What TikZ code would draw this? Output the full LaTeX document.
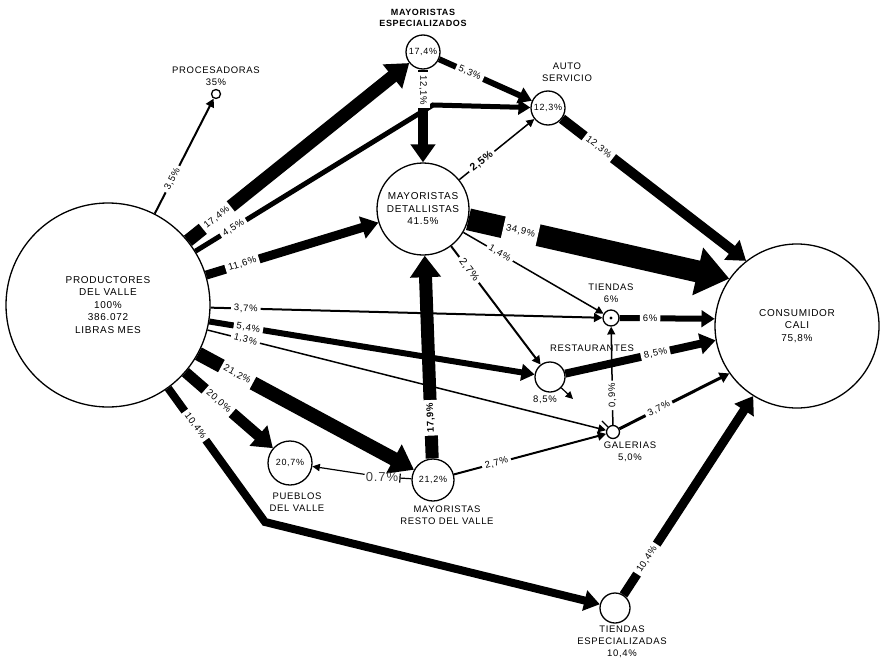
\documentclass[tikz,border=0pt]{standalone}
\usepackage{fontspec}
\setmainfont{Liberation Sans}[LetterSpace=7]
\usetikzlibrary{arrows.meta,positioning}
\tikzset{
  stock/.style={circle,draw,line width=1.3pt,inner sep=0pt,minimum size=#1,align=center,font=\fontsize{9}{11}\selectfont},
  flow/.style={line width=#1,-{Triangle[length=6pt 1.2,width=5pt 1.9]}},
  pct/.style={fill=white,sloped,inner xsep=3pt,inner ysep=1.5pt,minimum height=#1,font=\fontsize{9.5}{11}\selectfont},
  pct/.default=6pt,
  tag/.style={align=center,inner sep=0pt,font=\fontsize{9.5}{12}\selectfont}
}
\def\bigtxt{\fontsize{10}{12.5}\selectfont}

\begin{document}
\begin{tikzpicture}[x=1pt,y=-1pt]
  \useasboundingbox (0,0) rectangle (882,661);

  % Stocks
  \node[stock=204pt,font=\bigtxt] (prod) at (108,305) {PRODUCTORES\\DEL VALLE\\100\%\\386.072\\LIBRAS MES};
  \node[stock=9pt] (proc) at (216,94) {};
  \node[stock=34pt] (mesp) at (423,52) {17,4\%};
  \node[stock=34pt] (auto) at (548,108) {12,3\%};
  \node[stock=92pt,font=\bigtxt] (mdet) at (423,209) {MAYORISTAS\\DETALLISTAS\\41.5\%};
  \node[stock=16pt] (tien) at (611,318) {};
  \node[stock=30pt] (rest) at (550,377) {};
  \node[stock=13pt] (gale) at (613,432) {};
  \node[stock=44pt] (pueb) at (290,463) {20,7\%};
  \node[stock=42pt] (mres) at (433,480) {21,2\%};
  \node[stock=30pt] (tesp) at (615,608) {};
  \node[stock=164pt,font=\bigtxt] (cons) at (797,326) {CONSUMIDOR\\CALI\\75,8\%};
  \coordinate (bendA) at (433,105);
  \coordinate (bendB) at (265,522);
  \coordinate (restK) at (573,399);
  \fill (tien) circle (1.6pt);
  \draw[line width=1.2pt] (gale.135) -- ++(-6,-6);

  % Names
  \node[tag,above=3pt of proc] (procT) {PROCESADORAS\\35\%};
  \node[tag,above=8pt of mesp,font=\bfseries\fontsize{9}{10.5}\selectfont] (mespT) {MAYORISTAS\\ESPECIALIZADOS};
  \node[tag,above=9pt of auto,xshift=19pt] (autoT) {AUTO\\SERVICIO};
  \node[tag,above=7pt of tien] (tienT) {TIENDAS\\6\%};
  \node[tag,above=10pt of rest,xshift=42pt] (restT) {RESTAURANTES};
  \node[tag,below=3pt of rest,xshift=-5pt] (restP) {8,5\%};
  \node[tag,below=3pt of gale,xshift=17pt] (galeT) {GALERIAS\\5,0\%};
  \node[tag,below=7pt of pueb,xshift=7pt] (puebT) {PUEBLOS\\DEL VALLE};
  \node[tag,below=4pt of mres,xshift=14pt] (mresT) {MAYORISTAS\\RESTO DEL VALLE};
  \node[tag,below=2pt of tesp,xshift=7pt] (tespT) {TIENDAS\\ESPECIALIZADAS\\10,4\%};

  % From the producers
  \draw[flow=2pt] (prod) -- node[pct,pos=.3] {3,5\%} (proc);
  \draw[flow=13pt] (prod) -- node[pct=17pt,pos=.13] {17,4\%} (mesp);
  \draw[flow=5pt] (prod) -- node[pct=8pt,pos=.16] {4,5\%} (bendA) -- (auto);
  \draw[flow=9pt] (prod) -- node[pct=12pt,pos=.21] {11,6\%} (mdet);
  \draw[flow=2pt] (prod) -- node[pct,pos=.09] {3,7\%} (tien);
  \draw[flow=6pt] (prod) -- node[pct=9pt,pos=.12] {5,4\%} (rest);
  \draw[flow=1.5pt] (prod) -- node[pct,pos=.095] {1,3\%} (gale);
  \draw[flow=14pt] (prod) -- node[pct=17pt,pos=.18] {21,2\%} (mres);
  \draw[flow=11pt] (prod) -- node[pct=14pt,pos=.38] {20,0\%} (pueb);
  \draw[flow=8pt] (prod) -- node[pct=11pt,pos=.28] {10,4\%} (bendB) -- (tesp);

  % Between the middlemen
  \draw[flow=6pt] (mesp) -- node[pct=9pt,pos=.33] {5,3\%} (auto);
  \draw[flow=10pt] (mesp) -- node[pct=13pt,pos=.22,allow upside down] {12,1\%} (mdet);
  \draw[flow=1.5pt] (mdet) -- node[pct,pos=.3,font=\bfseries\fontsize{10.5}{12}\selectfont] {2,5\%} (auto);
  \draw[flow=1.5pt] (mdet) -- node[pct,pos=.26] {1,4\%} (tien);
  \draw[flow=2pt] (mdet) -- node[pct,pos=.2,font=\fontsize{10.5}{12}\selectfont] {2,7\%} (rest);
  \draw[flow=13pt] (mres) -- node[pct=16pt,pos=.2,allow upside down,font=\bfseries\fontsize{9.5}{11}\selectfont] {17,9\%} (mdet);
  \draw[flow=2pt] (mres) -- node[pct,pos=.28] {2,7\%} (gale);
  \node[font=\fontsize{13}{15}\selectfont,text=black!75,inner sep=1pt] (sevenT) at (382,477) {0.7\%};
  \draw[flow=1.2pt] (sevenT) -- (pueb);
  \draw[{Bar[width=9pt]}-,line width=1.2pt] (sevenT) -- (mres);
  \draw[flow=1.5pt] (gale) -- node[pct,pos=.3,allow upside down] {0,9\%} (tien);
  \draw[flow=1.2pt] (rest) -- (restK);

  % To the consumer
  \draw[flow=22pt] (mdet) -- node[pct=26pt,pos=.2] {34,9\%} (cons.145);
  \draw[flow=10pt] (auto) -- node[pct=13pt,pos=.2] {12,3\%} (cons.128);
  \draw[flow=6pt] (tien) -- node[pct=9pt,pos=.32] {6\%} (cons.175);
  \draw[flow=8pt] (rest) -- node[pct=11pt,pos=.6] {8,5\%} (cons.190);
  \draw[flow=3pt] (gale) -- node[pct,pos=.36] {3,7\%} (cons.215);
  \draw[flow=9pt] (tesp) -- node[pct=12pt,pos=.18] {10,4\%} (cons.238);
\end{tikzpicture}
\end{document}
